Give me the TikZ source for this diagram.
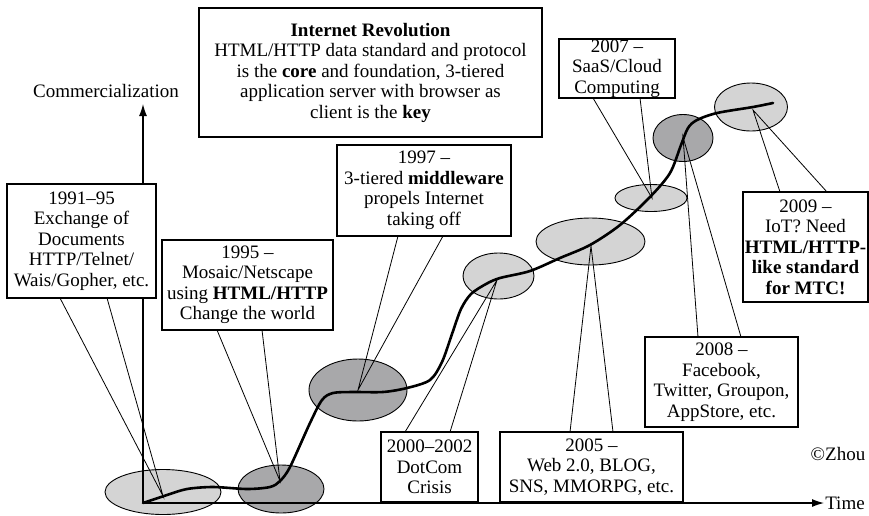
\documentclass[tikz,border=0pt]{standalone}
\usepackage{fontspec}
\setmainfont{Liberation Serif}
\usetikzlibrary{arrows.meta,shapes.geometric}
\definecolor{elllight}{RGB}{212,212,212}
\definecolor{elldark}{RGB}{168,168,170}
\begin{document}
\begin{tikzpicture}[x=1pt,y=-1pt,
  every node/.style={font=\fontsize{19}{20.5}\selectfont},
  ell/.style={ellipse, draw=black, line width=0.9pt, inner sep=0pt, outer sep=0pt},
  lightell/.style={ell, fill=elllight},
  darkell/.style={ell, fill=elldark},
  callout/.style={draw=black, fill=white, line width=1.2pt, align=center, inner sep=0pt, outer sep=0pt},
  pointer/.style={line width=0.8pt, line join=miter},
  axis/.style={line width=1.2pt, -{Latex[length=12pt,width=8pt]}},
  trend/.style={line width=2.6pt, line cap=round, line join=round}
]
\useasboundingbox (0,0) rectangle (869,515);

% ellipses
\node[lightell, minimum width=116pt, minimum height=45pt] (e1) at (163,492) {};
\node[darkell, minimum width=86pt, minimum height=48pt] (e2) at (281,489) {};
\node[darkell, minimum width=98pt, minimum height=62pt] (e3) at (358,390) {};
\node[lightell, minimum width=71pt, minimum height=46pt] (e4) at (498.5,276) {};
\node[lightell, minimum width=109pt, minimum height=47pt] (e5) at (590.5,241.5) {};
\node[lightell, minimum width=72pt, minimum height=27pt] (e6) at (651,198) {};
\node[darkell, minimum width=60pt, minimum height=47pt] (e7) at (683,138) {};
\node[lightell, minimum width=73pt, minimum height=48pt] (e8) at (751,107) {};

% axes
\coordinate (O) at (143,503);
\coordinate (Ytop) at (143,104);
\coordinate (Xend) at (824,503);
\draw[axis] (O) -- (Ytop);
\draw[axis] (O) -- (Xend);
\node (comm) at (106,91) {Commercialization};
\node (time) at (845,503) {Time};
\node (zhou) at (838,454) {©Zhou};

% trend curve
\draw[trend] plot[smooth, tension=0.5] coordinates {(143,503) (167,495) (187,489) (213,487) (247,489) (270,487) (280,481) (290,467) (310,423) (322,400) (333,393) (353,392) (383,392) (407,388) (430,380) (442,362) (452,334) (461,309) (471,294) (486,284) (500,278) (530,271) (560,258) (590,245) (620,225) (650,197) (670,173) (681,145) (688,128) (697,120) (717,113) (753,107) (773,103)};

% callout boxes
\node[callout, minimum width=149pt, minimum height=114pt] (A) at (81.5,241) {1991–95\\Exchange of\\Documents\\HTTP/Telnet/\\Wais/Gopher, etc.};
\node[callout, minimum width=171pt, minimum height=90pt] (B) at (247.5,285) {1995 –\\Mosaic/Netscape\\using \textbf{HTML/HTTP}\\Change the world};
\node[callout, minimum width=174pt, minimum height=91pt] (C) at (424,190.5) {1997 –\\3-tiered \textbf{middleware}\\propels Internet\\taking off};
\node[callout, minimum width=343pt, minimum height=129pt] (D) at (370.5,72.5) {\textbf{Internet Revolution}\\HTML/HTTP data standard and protocol\\is the \textbf{core} and foundation, 3-tiered\\application server with browser as\\client is the \textbf{key}};
\node[callout, minimum width=97pt, minimum height=70pt] (E) at (429.5,467) {2000–2002\\DotCom\\Crisis};
\node[callout, minimum width=183pt, minimum height=70pt] (F) at (591.5,467) {2005 –\\Web 2.0, BLOG,\\SNS, MMORPG, etc.};
\node[callout, minimum width=116pt, minimum height=59pt] (G) at (617,68.5) {2007 –\\SaaS/Cloud\\Computing};
\node[callout, minimum width=153pt, minimum height=90pt] (H) at (721.5,382) {2008 –\\Facebook,\\Twitter, Groupon,\\AppStore, etc.};
\node[callout, minimum width=125pt, minimum height=110pt] (I) at (805.5,247) {2009 –\\IoT? Need\\\textbf{HTML/HTTP-}\\\textbf{like standard}\\\textbf{for MTC!}};

% pointer tips
\coordinate (tA) at (163,496);
\coordinate (tB) at (280,481);
\coordinate (tC) at (358,390);
\coordinate (tE) at (497,280);
\coordinate (tF) at (591,246);
\coordinate (tG) at (652,198);
\coordinate (tH) at (683,137);
\coordinate (tI) at (753,110);

% pointers
\draw[pointer] ([xshift=53pt]A.south west) -- (tA) -- ([xshift=100pt]A.south west);
\draw[pointer] ([xshift=55pt]B.south west) -- (tB) -- ([xshift=100pt]B.south west);
\draw[pointer] ([xshift=61pt]C.south west) -- (tC) -- ([xshift=106pt]C.south west);
\draw[pointer] ([xshift=24pt]E.north west) -- (tE) -- ([xshift=69pt]E.north west);
\draw[pointer] ([xshift=70pt]F.north west) -- (tF) -- ([xshift=113pt]F.north west);
\draw[pointer] ([xshift=34pt]G.south west) -- (tG) -- ([xshift=81pt]G.south west);
\draw[pointer] ([xshift=53pt]H.north west) -- (tH) -- ([xshift=96pt]H.north west);
\draw[pointer] ([xshift=37pt]I.north west) -- (tI) -- ([xshift=84pt]I.north west);
\end{tikzpicture}
\end{document}
